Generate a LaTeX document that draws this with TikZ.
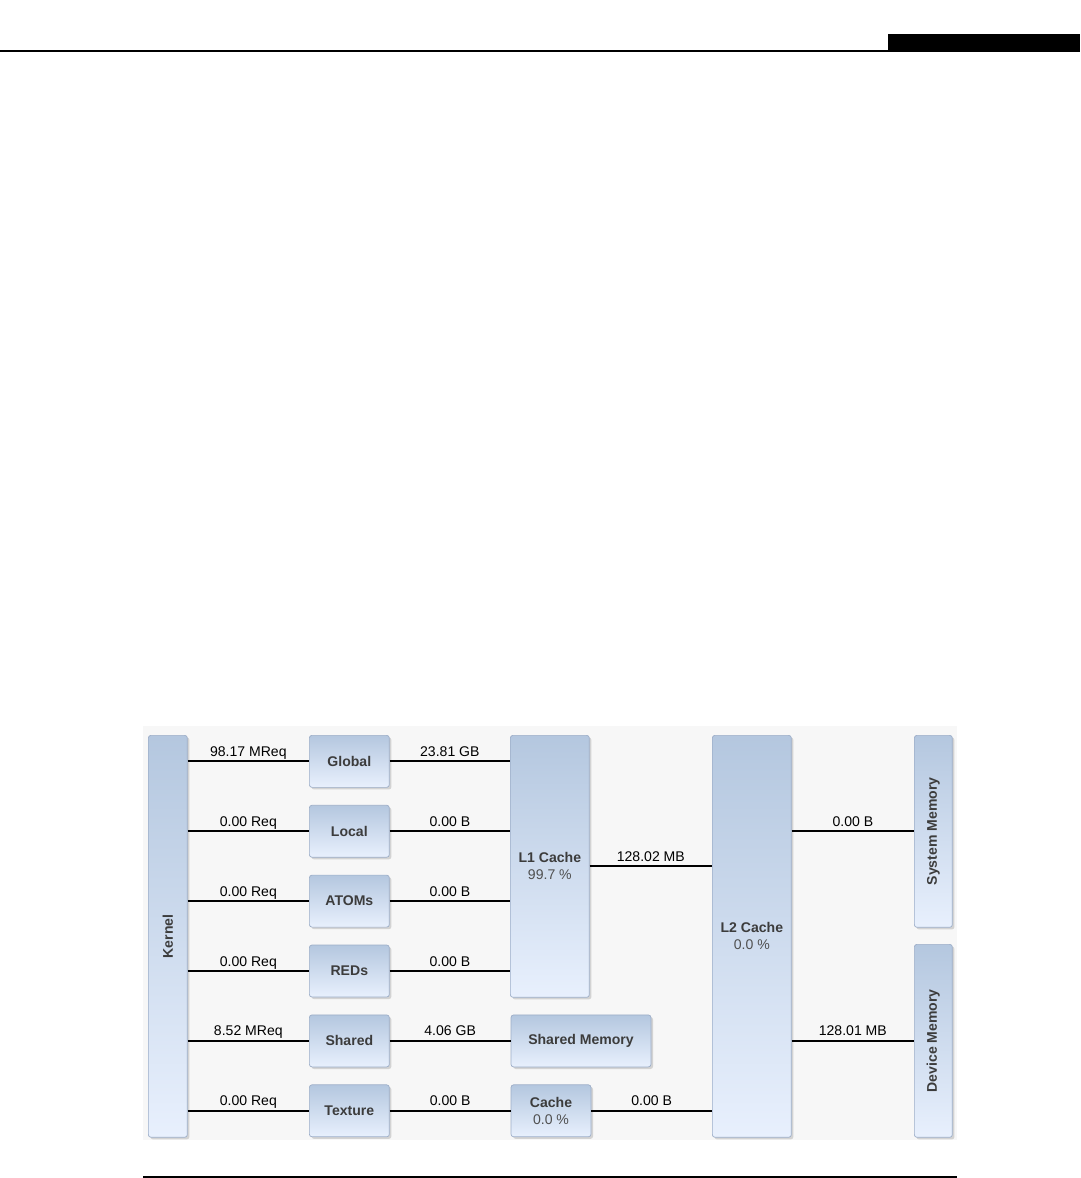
\documentclass[tikz,border=0pt]{standalone}
\usepackage{fontspec}
\setmainfont{Liberation Sans}
\usetikzlibrary{positioning,shadows}

\definecolor{boxtop}{HTML}{B4C7DF}
\definecolor{boxbot}{HTML}{E8F0FD}
\definecolor{boxline}{HTML}{9DAEC8}
\definecolor{boxtext}{HTML}{3C3C3C}
\definecolor{ratetext}{HTML}{505050}
\definecolor{panel}{HTML}{F7F7F7}

\begin{document}
\begin{tikzpicture}[
    x=0.02cm, y=-0.02cm,
    node distance=0.344cm and 2.42cm,
    unit/.style={rectangle, rounded corners=1.5pt, draw=boxline, top color=boxtop, bottom color=boxbot, drop shadow={shadow xshift=1.2pt, shadow yshift=-1.2pt, opacity=0.3}, font=\fontsize{8}{9.6}\selectfont\bfseries, text=boxtext, align=center, inner sep=0pt},
    small/.style={unit, minimum width=1.6cm, minimum height=1.04cm},
    tall/.style={unit, anchor=north west, minimum width=1.58cm},
    side/.style={unit, anchor=north west, minimum width=0.78cm},
    vtext/.style={rotate=90, font=\fontsize{8}{9.6}\selectfont\bfseries, text=boxtext},
    wire/.style={line width=1.1pt},
    amount/.style={above, font=\fontsize{8}{9.6}\selectfont, inner sep=2.3pt, text depth=0pt}
]
\fill[white] (0,0) rectangle (1080,1178);
\useasboundingbox (0,0) rectangle (1080,1178);
\fill[panel] (143,726) rectangle (957,1140);
\draw[line width=0.6pt] (0,51) -- (889,51);
\fill (888,34) rectangle (1080,51.5);
\draw[line width=0.6pt] (143,1177) -- (957,1177);

\node[side, minimum height=8.04cm, label={[vtext]center:Kernel}] (kernel) at (148,735) {};
\node[small, anchor=north west] (global) at (309,735) {Global};
\node[small, below=of global] (local) {Local};
\node[small, below=of local] (atoms) {ATOMs};
\node[small, below=of atoms] (reds) {REDs};
\node[small, below=of reds] (shared) {Shared};
\node[small, below=of shared] (texture) {Texture};
\node[tall, minimum height=5.24cm] (l1) at (510,735) {L1 Cache\\{\mdseries\color{ratetext}99.7 \%}};
\node[small, right=of shared, minimum width=2.8cm] (shmem) {Shared Memory};
\node[small, right=of texture] (cache) {Cache\\{\mdseries\color{ratetext}0.0 \%}};
\node[tall, minimum height=8.04cm] (l2) at (712,735) {L2 Cache\\{\mdseries\color{ratetext}0.0 \%}};
\node[side, minimum width=0.76cm, minimum height=3.84cm, label={[vtext]center:System Memory}] (sysmem) at (914,735) {};
\node[side, minimum width=0.76cm, minimum height=3.86cm, label={[vtext]center:Device Memory}] (devmem) at (914,944) {};

\draw[wire] (kernel.east |- global) -- node[amount] {98.17 MReq} (global);
\draw[wire] (kernel.east |- local) -- node[amount] {0.00 Req} (local);
\draw[wire] (kernel.east |- atoms) -- node[amount] {0.00 Req} (atoms);
\draw[wire] (kernel.east |- reds) -- node[amount] {0.00 Req} (reds);
\draw[wire] (kernel.east |- shared) -- node[amount] {8.52 MReq} (shared);
\draw[wire] (kernel.east |- texture) -- node[amount] {0.00 Req} (texture);
\draw[wire] (global) -- node[amount] {23.81 GB} (global -| l1.west);
\draw[wire] (local) -- node[amount] {0.00 B} (local -| l1.west);
\draw[wire] (atoms) -- node[amount] {0.00 B} (atoms -| l1.west);
\draw[wire] (reds) -- node[amount] {0.00 B} (reds -| l1.west);
\draw[wire] (shared) -- node[amount] {4.06 GB} (shmem);
\draw[wire] (texture) -- node[amount] {0.00 B} (cache);
\draw[wire] (l1) -- node[amount] {128.02 MB} (l1 -| l2.west);
\draw[wire] (cache) -- node[amount] {0.00 B} (cache -| l2.west);
\draw[wire] (l2.east |- sysmem) -- node[amount] {0.00 B} (sysmem);
\draw[wire] (l2.east |- devmem) -- node[amount] {128.01 MB} (devmem);
\end{tikzpicture}
\end{document}
